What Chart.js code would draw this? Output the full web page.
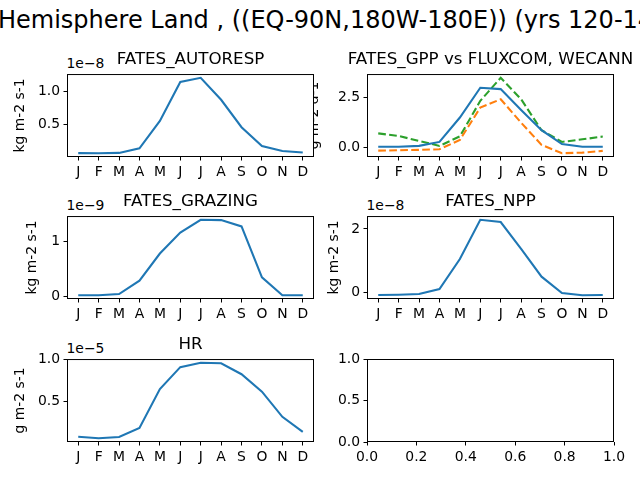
<!DOCTYPE html>
<html>
<head>
<meta charset="utf-8">
<script src="https://cdn.jsdelivr.net/npm/chart.js@4/dist/chart.umd.min.js"></script>
<style>
    body { margin: 0; width: 640px; height: 480px; overflow: hidden; background: #fff; position: relative; font-family: "DejaVu Sans", sans-serif; }
    canvas { position: absolute; }
    .txt { position: absolute; white-space: nowrap; color: #000; line-height: 1; }
</style>
</head>
<body>

<div class="txt" style="left:-2px; top:8px; font-size:24px;">Hemisphere Land , ((EQ-90N,180W-180E)) (yrs 120-140)</div>

<div class="txt" style="left:66.5px; top:57.2px; font-size:13.9px;">1e−8</div>
<div class="txt" style="left:66.5px; top:199.2px; font-size:13.9px;">1e−9</div>
<div class="txt" style="left:366.5px; top:199.2px; font-size:13.9px;">1e−8</div>
<div class="txt" style="left:66.5px; top:342.2px; font-size:13.9px;">1e−5</div>

<canvas id="gppChart"></canvas>
<canvas id="autorespChart"></canvas>
<canvas id="grazingChart"></canvas>
<canvas id="nppChart"></canvas>
<canvas id="hrChart"></canvas>
<canvas id="emptyChart"></canvas>

<script>

// DATA

const months = ["J", "F", "M", "A", "M", "J", "J", "A", "S", "O", "N", "D"];

// FATES_AUTORESP, units of 1e-8 kg m-2 s-1
const autorespValues = [0.082, 0.080, 0.085, 0.153, 0.559, 1.134, 1.196, 0.871, 0.465, 0.188, 0.114, 0.090];

// FATES_GPP vs FLUXCOM, WECANN, g m-2 d-1
const gppFates = [0.03, 0.03, 0.07, 0.27, 1.50, 3.00, 2.93, 1.88, 0.86, 0.16, 0.03, 0.03];
const gppFluxcom = [-0.17, -0.15, -0.13, -0.10, 0.37, 2.00, 2.42, 1.24, 0.12, -0.30, -0.27, -0.18];
const gppWecann = [0.70, 0.57, 0.32, 0.07, 0.55, 2.34, 3.50, 2.42, 0.86, 0.27, 0.40, 0.54];

// FATES_GRAZING, units of 1e-9 kg m-2 s-1
const grazingValues = [0.026, 0.026, 0.048, 0.29, 0.78, 1.16, 1.39, 1.385, 1.27, 0.35, 0.026, 0.026];

// FATES_NPP, units of 1e-8 kg m-2 s-1
const nppValues = [-0.085, -0.076, -0.055, 0.105, 1.05, 2.29, 2.22, 1.37, 0.495, -0.02, -0.091, -0.085];

// HR, units of 1e-5 g m-2 s-1
const hrValues = [0.085, 0.068, 0.083, 0.19, 0.65, 0.909, 0.96, 0.955, 0.825, 0.619, 0.321, 0.143];

// Y TICKS

const autorespTicks = [0.5, 1.0];
const gppTicks = [0.0, 2.5];
const grazingTicks = [0, 1];
const nppTicks = [0, 2];
const hrTicks = [0.5, 1.0];
const emptyTicks = [0.0, 0.5, 1.0];
const emptyXTicks = [0.0, 0.2, 0.4, 0.6, 0.8, 1.0];


// LAYOUT

const colLeft = [67, 367];
const rowTop = [74, 216, 359];
const axWidth = 247;
const axHeight = 83;
const yAxisSpace = 62;
const topSpace = 40;
const bottomSpace = 26;

const tickFont = { size: 13.9 };

Chart.defaults.font.family = "'DejaVu Sans', sans-serif";
Chart.defaults.color = "#000";


// AXES BOX (matplotlib spines)

const boxPlugin = {
    id: "axesBox",
    afterDatasetsDraw(chart) {
        const a = chart.chartArea;
        const ctx = chart.ctx;
        ctx.save();
        ctx.strokeStyle = "#000";
        ctx.lineWidth = 1;
        ctx.strokeRect(a.left + 0.5, a.top + 0.5, a.right - a.left - 1, a.bottom - a.top - 1);
        ctx.restore();
    }
};


// 5% MARGIN LIKE MATPLOTLIB

function limits(seriesList) {
    const all = [].concat(...seriesList);
    const lo = Math.min(...all);
    const hi = Math.max(...all);
    const m = (hi - lo) * 0.05;
    return { min: lo - m, max: hi + m };
}


function makePanel(canvasId, col, row, cfg) {

    const canvas = document.getElementById(canvasId);
    canvas.width = yAxisSpace + axWidth + yAxisSpace;
    canvas.height = topSpace + axHeight + bottomSpace;
    canvas.style.left = (colLeft[col] - yAxisSpace) + "px";
    canvas.style.top = (rowTop[row] - topSpace) + "px";
    if (cfg.clipLeft) {
        canvas.style.clipPath = "inset(0 0 0 " + cfg.clipLeft + "px)";
    }

    const yLim = cfg.yLimits || limits(cfg.series.map(s => s.values));

    const datasets = cfg.series.map(s => ({
        data: s.values.map((v, i) => ({ x: i, y: v })),
        borderColor: s.color,
        borderWidth: 2.08,
        borderDash: s.dashed ? [7.7, 3.3] : [],
        pointRadius: 0,
        tension: 0,
        fill: false
    }));

    const gridStyle = {
        drawOnChartArea: false,
        drawTicks: true,
        tickLength: 3.5,
        color: "#000",
        lineWidth: 1
    };

    new Chart(canvas, {

        type: "line",

        data: { datasets: datasets },

        options: {

            responsive: false,
            animation: false,
            events: [],

            layout: {
                padding: { top: cfg.title ? 0 : topSpace, right: 0, left: 0, bottom: 0 }
            },

            plugins: {
                legend: { display: false },
                tooltip: { enabled: false },
                title: {
                    display: !!cfg.title,
                    text: cfg.title || "",
                    color: "#000",
                    font: { size: 16.7, weight: "normal" },
                    padding: { top: 16, bottom: 4 }
                }
            },

            scales: {

                x: {
                    type: "linear",
                    min: cfg.xTicks ? 0 : -0.55,
                    max: cfg.xTicks ? 1 : 11.55,
                    grid: gridStyle,
                    border: { display: false },
                    ticks: {
                        font: tickFont,
                        padding: 3.5,
                        autoSkip: false,
                        maxRotation: 0,
                        callback: (v) => cfg.xTicks ? v.toFixed(1) : months[v]
                    },
                    afterBuildTicks: (scale) => {
                        const vals = cfg.xTicks || months.map((m, i) => i);
                        scale.ticks = vals.map(v => ({ value: v }));
                    },
                    afterFit: (scale) => { scale.height = bottomSpace; }
                },

                y: {
                    type: "linear",
                    min: yLim.min,
                    max: yLim.max,
                    grid: gridStyle,
                    border: { display: false },
                    title: {
                        display: !!cfg.yLabel,
                        text: cfg.yLabel || "",
                        color: "#000",
                        font: { size: 13.9 },
                        padding: { top: cfg.yLabelPad || 0, bottom: 0 }
                    },
                    ticks: {
                        font: tickFont,
                        padding: 3.5,
                        autoSkip: false,
                        callback: (v) => v.toFixed(cfg.decimals)
                    },
                    afterBuildTicks: (scale) => {
                        scale.ticks = cfg.yTicks.map(v => ({ value: v }));
                    },
                    afterFit: (scale) => { scale.width = yAxisSpace; }
                },

                // blank right spacer so the title centres over the plot area
                spacer: {
                    type: "linear",
                    position: "right",
                    min: 0,
                    max: 1,
                    grid: { display: false },
                    border: { display: false },
                    ticks: { display: false },
                    afterFit: (scale) => { scale.width = yAxisSpace; }
                }
            }
        },

        plugins: [boxPlugin]
    });
}


// CREATE CHARTS

makePanel("gppChart", 1, 0, {
    title: "FATES_GPP vs FLUXCOM, WECANN",
    yLabel: "g m-2 d-1",
    yLabelPad: 1.2,
    clipLeft: 9,
    yTicks: gppTicks,
    decimals: 1,
    series: [
        { values: gppFates, color: "#1f77b4" },
        { values: gppFluxcom, color: "#ff7f0e", dashed: true },
        { values: gppWecann, color: "#2ca02c", dashed: true }
    ]
});

makePanel("autorespChart", 0, 0, {
    title: "FATES_AUTORESP",
    yLabel: "kg m-2 s-1",
    yLabelPad: 7.2,
    yTicks: autorespTicks,
    decimals: 1,
    series: [{ values: autorespValues, color: "#1f77b4" }]
});

makePanel("grazingChart", 0, 1, {
    title: "FATES_GRAZING",
    yLabel: "kg m-2 s-1",
    yLabelPad: 19.2,
    yTicks: grazingTicks,
    decimals: 0,
    series: [{ values: grazingValues, color: "#1f77b4" }]
});

makePanel("nppChart", 1, 1, {
    title: "FATES_NPP",
    yLabel: "kg m-2 s-1",
    yLabelPad: 20.7,
    yTicks: nppTicks,
    decimals: 0,
    series: [{ values: nppValues, color: "#1f77b4" }]
});

makePanel("hrChart", 0, 2, {
    title: "HR",
    yLabel: "g m-2 s-1",
    yLabelPad: 7.2,
    yTicks: hrTicks,
    decimals: 1,
    series: [{ values: hrValues, color: "#1f77b4" }]
});

makePanel("emptyChart", 1, 2, {
    yTicks: emptyTicks,
    xTicks: emptyXTicks,
    yLimits: { min: 0, max: 1 },
    decimals: 1,
    series: []
});

</script>
</body>
</html>
